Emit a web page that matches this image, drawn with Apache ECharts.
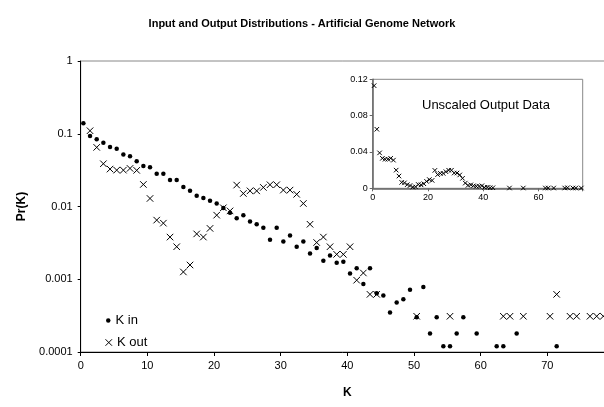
<!DOCTYPE html>
<html>
<head>
<meta charset="utf-8">
<script src="https://cdn.jsdelivr.net/npm/echarts@6/dist/echarts.min.js"></script>
<style>
html,body{margin:0;padding:0;background:#fff;}
#chart{width:604px;height:407px;}
</style>
</head>
<body>
<div id="chart"></div>
<script>
// ---- data ----
const titleText = 'Input and Output Distributions - Artificial Genome Network';
const insetTitle = 'Unscaled Output Data';
const yTickLabels = ['0.0001', '0.001', '0.01', '0.1', '1'];

// K in (dots) : x position and probability
const inK = [0.4,1.4,2.4,3.4,4.4,5.4,6.4,7.4,8.4,9.4,10.4,11.4,12.4,13.4,14.4,15.4,16.4,17.4,18.4,19.4,
  20.4,21.4,22.4,23.4,24.4,25.4,26.4,27.4,28.4,29.4,30.4,31.4,32.4,33.4,34.4,35.4,36.4,37.4,38.4,39.4,
  40.4,41.4,42.4,43.4,44.4,45.4,46.4,47.4,48.4,49.4,50.4,51.4,52.4,53.4,54.4,55.4,56.4,57.4,59.4,62.4,63.4,65.4,71.4];
const inP = [0.139,0.093,0.084,0.075,0.066,0.062,0.052,0.049,0.042,0.036,0.0345,0.0282,0.0282,0.0231,0.0231,0.0185,0.0164,0.014,0.0131,0.012,
  0.011,0.0095,0.0082,0.0069,0.0076,0.0062,0.0057,0.0051,0.0035,0.0051,0.0033,0.0040,0.0028,0.0033,0.00226,0.00268,0.00179,0.00212,0.00168,0.00174,
  0.0012,0.00142,0.00086,0.00142,0.00064,0.0006,0.00035,0.00048,0.00053,0.00072,0.0003,0.00078,0.00018,0.0003,0.00012,0.00012,0.00018,0.0003,0.00018,0.00012,0.00012,0.00018,0.00012];

// K out (crosses)
const outK = [1.4,2.4,3.4,4.4,5.4,6.4,7.4,8.4,9.4,10.4,11.4,12.4,13.4,14.4,15.4,16.4,17.4,18.4,19.4,20.4,
  21.4,22.4,23.4,24.4,25.4,26.4,27.4,28.4,29.4,30.4,31.4,32.4,33.4,34.4,35.4,36.4,37.4,38.4,39.4,40.4,
  41.4,42.4,43.4,44.4,50.4,55.4,63.4,64.4,66.4,70.4,71.4,73.4,74.4,76.4,77.4,78.4];
const outP = [0.11,0.065,0.0387,0.0327,0.0316,0.0316,0.0334,0.0314,0.0201,0.0129,0.0065,0.0059,0.0038,0.0028,0.00126,0.00157,0.0042,0.0038,0.005,0.0076,
  0.0096,0.0087,0.0197,0.0151,0.0164,0.0164,0.0183,0.0199,0.0199,0.0168,0.0168,0.0147,0.011,0.0057,0.0032,0.0038,0.0028,0.0022,0.0022,0.0028,
  0.00097,0.00122,0.00062,0.00062,0.00031,0.00031,0.00031,0.00031,0.00031,0.00031,0.00062,0.00031,0.00031,0.00031,0.00031,0.00031];

// Inset: unscaled output data
const insetK = [0.5,1.5,2.5,3.5,4.5,5.5,6.5,7.5,8.5,9.5,10.5,11.5,12.5,13.5,14.5,15.5,16.5,17.5,18.5,19.5,
  20.5,21.5,22.5,23.5,24.5,25.5,26.5,27.5,28.5,29.5,30.5,31.5,32.5,33.5,34.5,35.5,36.5,37.5,38.5,39.5,
  40.5,41.5,42.5,43.5,49.5,54.5,62.5,63.5,65.5,69.5,70.5,72.5,73.5,75.5,76.5,77.5];
const insetP = [0.113,0.065,0.039,0.033,0.032,0.032,0.033,0.031,0.020,0.0135,0.0065,0.006,0.004,0.003,0.0013,0.0016,0.0042,0.0038,0.005,0.0076,
  0.0096,0.0087,0.0197,0.0151,0.0164,0.0164,0.0183,0.0199,0.0199,0.0168,0.0168,0.0147,0.011,0.0057,0.0032,0.0038,0.0028,0.0022,0.0022,0.0028,
  0.001,0.0012,0.0006,0.0006,0.0003,0.0003,0.0003,0.0003,0.0003,0.0003,0.0006,0.0003,0.0003,0.0003,0.0003,0.0003];

const FONT = 'Liberation Sans, Arial, sans-serif';
const crossPath = 'path://M0,0L10,10M10,0L0,10';
const zip = (a, b) => a.map((v, i) => [v, b[i]]);

const chart = echarts.init(document.getElementById('chart'), null, {renderer: 'canvas'});
chart.setOption({
  backgroundColor: '#fff',
  animation: false,
  textStyle: {fontFamily: FONT},
  title: [{
    text: titleText, left: 'center', top: 13,
    textStyle: {fontSize: 11, fontWeight: 'bold', color: '#000', fontFamily: FONT}
  }, {
    text: insetTitle, left: 417, top: 94,
    textStyle: {fontSize: 13, fontWeight: 'normal', color: '#000', fontFamily: FONT}
  }],
  legend: [{
    data: [{name: 'K in', icon: 'circle', itemStyle: {color: '#000'}}],
    left: 101, top: 309, orient: 'vertical',
    itemWidth: 4.5, itemHeight: 4.5,
    textStyle: {fontSize: 13, color: '#000', fontFamily: FONT}
  }, {
    data: [{name: 'K out', icon: crossPath, itemStyle: {color: 'transparent', borderColor: '#000', borderWidth: 1}}],
    left: 100, top: 331, orient: 'vertical',
    itemWidth: 6.5, itemHeight: 6.5,
    textStyle: {fontSize: 13, color: '#000', fontFamily: FONT}
  }],
  grid: [{
    left: 80.7, top: 61, width: 533.3, height: 291,
    outerBoundsMode: 'none', containLabel: false,
    show: true, borderColor: '#888', borderWidth: 1, backgroundColor: 'transparent'
  }, {
    left: 372.7, top: 79.3, width: 210, height: 109,
    outerBoundsMode: 'none', containLabel: false,
    show: true, borderColor: '#888', borderWidth: 1, backgroundColor: '#fff', z: 3
  }],
  xAxis: [{
    gridIndex: 0, type: 'value', min: 0, max: 80, interval: 10,
    name: 'K', nameLocation: 'middle', nameGap: 35,
    nameTextStyle: {fontSize: 12, fontWeight: 'bold', color: '#000', fontFamily: FONT},
    axisLine: {lineStyle: {color: '#000', width: 1}},
    axisTick: {show: true, length: 4, lineStyle: {color: '#000'}},
    axisLabel: {fontSize: 11, color: '#000', margin: 8, fontFamily: FONT, showMaxLabel: false},
    splitLine: {show: false}
  }, {
    gridIndex: 1, type: 'value', min: 0, max: 76, interval: 20,
    axisLine: {onZero: false, lineStyle: {color: '#666', width: 1.5}},
    axisTick: {show: true, length: 3, lineStyle: {color: '#666'}},
    axisLabel: {fontSize: 9, color: '#000', margin: 5, fontFamily: FONT,
      formatter: v => (Math.abs(v % 20) < 1e-9 ? String(v) : '')},
    splitLine: {show: false}, z: 4
  }],
  yAxis: [{
    gridIndex: 0, type: 'log', logBase: 10, min: 0.0001, max: 1,
    name: 'Pr(K)', nameLocation: 'middle', nameGap: 46,
    nameTextStyle: {fontSize: 12, fontWeight: 'bold', color: '#000', fontFamily: FONT},
    axisLine: {lineStyle: {color: '#000', width: 1}},
    axisTick: {show: true, length: 3, lineStyle: {color: '#000'}},
    axisLabel: {fontSize: 11, color: '#000', margin: 8, fontFamily: FONT,
      formatter: v => yTickLabels[Math.round(Math.log10(v)) + 4]},
    splitLine: {show: false}, minorTick: {show: false}
  }, {
    gridIndex: 1, type: 'value', min: 0, max: 0.12, interval: 0.04,
    axisLine: {onZero: false, lineStyle: {color: '#666', width: 1.5}},
    axisTick: {show: true, length: 3, lineStyle: {color: '#666'}},
    axisLabel: {fontSize: 9, color: '#000', margin: 5, fontFamily: FONT,
      formatter: v => (v === 0 ? '0' : v.toFixed(2))},
    splitLine: {show: false}, z: 4
  }],
  series: [{
    name: 'K in', type: 'scatter', xAxisIndex: 0, yAxisIndex: 0,
    symbol: 'circle', symbolSize: 4.5,
    itemStyle: {color: '#000', opacity: 1},
    data: zip(inK, inP), z: 2
  }, {
    name: 'K out', type: 'scatter', xAxisIndex: 0, yAxisIndex: 0,
    symbol: crossPath, symbolSize: 6.5,
    itemStyle: {color: 'transparent', borderColor: '#000', borderWidth: 1, opacity: 1},
    data: zip(outK, outP), z: 2
  }, {
    name: 'inset', type: 'scatter', xAxisIndex: 1, yAxisIndex: 1,
    symbol: crossPath, symbolSize: 4.5,
    itemStyle: {color: 'transparent', borderColor: '#000', borderWidth: 1, opacity: 1},
    data: zip(insetK, insetP), z: 5
  }]
});
</script>
</body>
</html>
